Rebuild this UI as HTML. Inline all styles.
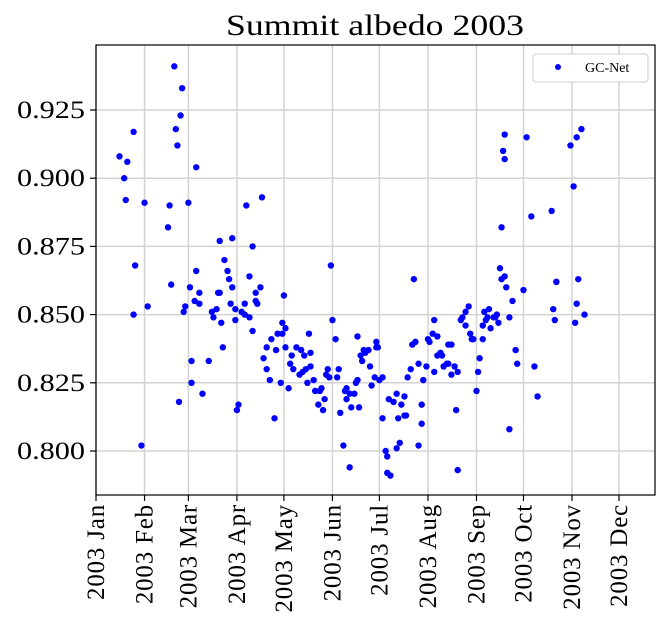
<!DOCTYPE html>
<html><head><meta charset="utf-8"><style>
body{margin:0;background:#fff;}
svg{display:block;font-family:"Liberation Serif",serif;}
</style></head><body>
<svg id="chart" width="666" height="642">
<text x="375" y="35" font-size="30" text-anchor="middle" textLength="298" lengthAdjust="spacingAndGlyphs">Summit albedo 2003</text>
<g id="grid"></g><g id="pts"></g><g id="axes"></g>
<g>
<rect x="533" y="54" width="115" height="28" fill="#fff" stroke="#ccc" rx="3"/>
<circle cx="558" cy="67" r="3" fill="#0000ff"/>
<text x="585" y="72" font-size="14">GC-Net</text>
</g>
</svg>
<script>
const days=[15,18,19,20,24,25,24,29,31,33,46,47,48,50,51,52,54,55,53,56,57,59,60,61,61,63,64,64,66,66,68,72,74,75,77,78,79,79,80,81,82,84,85,86,87,87,89,89,90,91,93,95,95,96,98,100,98,100,102,102,103,105,106,107,109,109,111,112,114,115,116,118,119,119,120,121,121,123,124,125,126,128,130,131,132,133,134,135,136,137,137,139,140,140,142,143,144,145,146,147,148,149,150,151,153,154,155,156,158,159,160,160,162,162,163,165,166,167,167,168,169,170,171,172,174,175,176,178,179,179,180,181,183,183,185,186,187,186,188,190,190,192,192,193,194,195,197,197,198,199,201,202,203,204,206,206,208,208,209,211,212,213,215,216,216,218,218,220,221,222,224,225,225,227,227,229,231,230,231,233,234,236,236,238,239,240,241,243,244,245,247,247,248,249,250,251,252,254,255,256,257,258,259,259,260,261,261,261,262,264,264,266,268,269,273,275,278,280,282,291,292,293,294,294,303,305,306,307,307,308,310,312];
const albedo=[.908,.900,.892,.906,.917,.868,.850,.802,.891,.853,.882,.890,.861,.941,.918,.912,.923,.933,.818,.851,.853,.891,.860,.833,.825,.855,.904,.866,.858,.854,.821,.833,.851,.849,.852,.858,.858,.877,.847,.838,.870,.866,.863,.854,.860,.878,.852,.848,.815,.817,.851,.854,.850,.890,.849,.875,.864,.844,.855,.858,.854,.860,.893,.834,.838,.830,.826,.841,.812,.837,.843,.825,.843,.847,.857,.845,.838,.823,.832,.835,.830,.838,.828,.837,.829,.835,.830,.825,.843,.831,.836,.826,.822,.822,.817,.822,.823,.815,.819,.828,.830,.827,.868,.848,.841,.827,.830,.814,.802,.822,.823,.819,.794,.821,.816,.821,.825,.842,.826,.816,.835,.833,.837,.836,.837,.831,.824,.827,.838,.840,.838,.826,.827,.812,.800,.798,.819,.792,.791,.818,.818,.801,.821,.812,.803,.817,.820,.813,.813,.827,.830,.839,.863,.840,.832,.802,.810,.817,.826,.831,.841,.840,.843,.848,.829,.835,.842,.836,.835,.831,.832,.832,.839,.839,.828,.831,.829,.815,.793,.848,.849,.851,.846,.853,.843,.841,.841,.822,.829,.834,.841,.846,.851,.848,.849,.852,.845,.849,.849,.850,.847,.867,.863,.882,.910,.907,.916,.864,.860,.849,.808,.855,.837,.832,.859,.915,.886,.831,.820,.888,.852,.848,.862,.862,.912,.897,.847,.915,.854,.863,.918,.850,.850];
const monthDays=[0,31,59,90,120,151,181,212,243,273,304,334];
const monthLabels=["2003 Jan","2003 Feb","2003 Mar","2003 Apr","2003 May","2003 Jun","2003 Jul","2003 Aug","2003 Sep","2003 Oct","2003 Nov","2003 Dec"];
const yTicks=[0.800,0.825,0.850,0.875,0.900,0.925];
const yTickLabels=["0.800","0.825","0.850","0.875","0.900","0.925"];
const L=96,R=655,T=45,B=495,NS="http://www.w3.org/2000/svg";
const X0=0,X1=357,Y0=0.78387,Y1=0.94883;
const xs=d=>L+(d-X0)/(X1-X0)*(R-L);
const ys=v=>B-(v-Y0)/(Y1-Y0)*(B-T);
function mk(tag,attrs,parent){const e=document.createElementNS(NS,tag);for(const k in attrs)e.setAttribute(k,attrs[k]);parent.appendChild(e);return e;}
const grid=document.getElementById('grid'),axes=document.getElementById('axes'),pts=document.getElementById('pts');
monthDays.forEach((d,i)=>{const x=xs(d);
 const g=mk('line',{x1:x,x2:x,y1:T,y2:B,stroke:'#d3d3d3','stroke-width':1.5},grid);
 
 
 const t=mk('line',{x1:x,x2:x,y1:B,y2:B+6,stroke:'#000','stroke-width':1.2},axes);
 
 
 const lb=mk('text',{x:x+8,y:B+9,'font-size':25,'letter-spacing':0.8,'text-anchor':'end',transform:`rotate(-90 ${x+8} ${B+9})`},axes);
 lb.textContent=monthLabels[i];
 
 
});
yTicks.forEach((v,i)=>{const y=ys(v);
 const g=mk('line',{x1:L,x2:R,y1:y,y2:y,stroke:'#d3d3d3','stroke-width':1.5},grid);
 
 
 const t=mk('line',{x1:L-6,x2:L,y1:y,y2:y,stroke:'#000','stroke-width':1.2},axes);
 
 
 const lb=mk('text',{x:L-11,y:y+8,'font-size':25,'text-anchor':'end',textLength:68,lengthAdjust:'spacingAndGlyphs'},axes);
 lb.textContent=yTickLabels[i];
 
 
});
const fr=mk('rect',{x:L,y:T,width:R-L,height:B-T,fill:'none',stroke:'#000','stroke-width':1.2},axes);


days.forEach((d,i)=>{
 const c=mk('circle',{cx:xs(d),cy:ys(albedo[i]),r:3.2,fill:'#0000ff'},pts);
 
 
});
</script>
</body></html>
